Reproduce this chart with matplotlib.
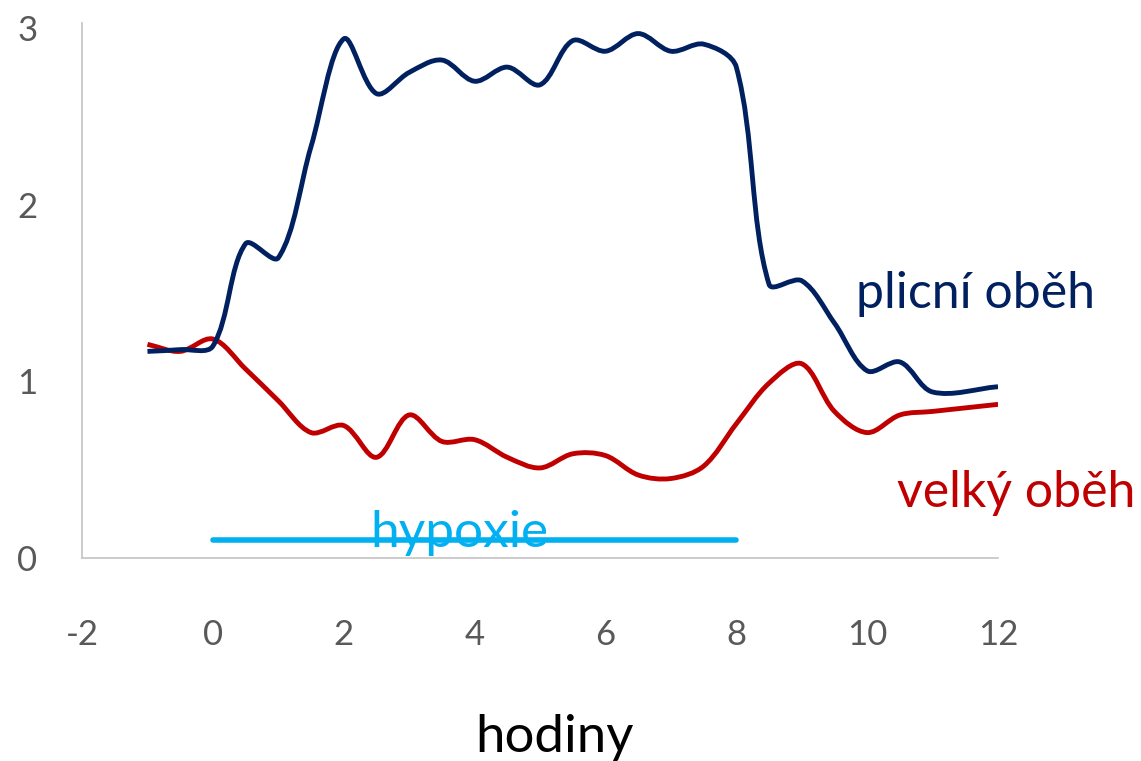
import matplotlib
matplotlib.use("Agg")
import math
import matplotlib.pyplot as plt
from matplotlib.path import Path
from matplotlib.patches import PathPatch

# hodiny (hours) at which the values were measured
hours = [-1, -0.5, 0, 0.5, 1, 1.5, 2, 2.5, 3, 3.5, 4, 4.5, 5, 5.5, 6, 6.5,
         7, 7.5, 8, 8.5, 9, 9.5, 10, 10.5, 11, 12]
plicni = [1.17, 1.18, 1.20, 1.78, 1.70, 2.33, 2.94, 2.63, 2.75, 2.82, 2.70, 2.78,
          2.68, 2.93, 2.87, 2.97, 2.87, 2.91, 2.78, 1.55, 1.57, 1.33, 1.06, 1.11,
          0.94, 0.97]
velky = [1.21, 1.17, 1.24, 1.07, 0.89, 0.71, 0.75, 0.57, 0.81, 0.66, 0.67, 0.57,
         0.51, 0.59, 0.58, 0.47, 0.45, 0.52, 0.76, 0.99, 1.10, 0.83, 0.71, 0.81,
         0.83, 0.87]
hypoxie_x = [0, 8]
hypoxie_y = [0.1, 0.1]

xticks = [-2, 0, 2, 4, 6, 8, 10, 12]
yticks = [0, 1, 2, 3]

NAVY = "#002060"
RED = "#C00000"
CYAN = "#00B0F0"
GRAY = "#595959"

plt.rcParams["font.family"] = ["Lato", "DejaVu Sans"]

# rough pixels per data unit, only used to weigh segment lengths when smoothing
SX, SY = 65.4, 176.6


def smooth_path(xs, ys):
    """Excel-like smoothed line: tangents split by neighbouring segment lengths."""
    pts = list(zip(xs, ys))
    n = len(pts)

    def seglen(a, b):
        return math.hypot((b[0] - a[0]) * SX, (b[1] - a[1]) * SY)

    before, after = [], []
    for i in range(n):
        p0 = pts[max(i - 1, 0)]
        p1 = pts[i]
        p2 = pts[min(i + 1, n - 1)]
        tx, ty = p2[0] - p0[0], p2[1] - p0[1]
        d1, d2 = seglen(p0, p1), seglen(p1, p2)
        tot = d1 + d2 if d1 + d2 > 0 else 1
        f = 1 / 3
        before.append((p1[0] - tx * f * d1 / tot, p1[1] - ty * f * d1 / tot))
        after.append((p1[0] + tx * f * d2 / tot, p1[1] + ty * f * d2 / tot))

    verts = [pts[0]]
    codes = [Path.MOVETO]
    for i in range(n - 1):
        verts += [after[i], before[i + 1], pts[i + 1]]
        codes += [Path.CURVE4] * 3
    return Path(verts, codes)


fig = plt.figure(figsize=(11.41, 7.61), dpi=100)
ax = fig.add_axes([0.0719, 0.2668, 0.8028, 0.7030])

for ys, col in [(velky, RED), (plicni, NAVY)]:
    ax.add_patch(PathPatch(smooth_path(hours, ys), fill=False, edgecolor=col,
                           lw=3.5, capstyle="butt", joinstyle="round"))

ax.plot(hypoxie_x, hypoxie_y, color=CYAN, lw=4.0, solid_capstyle="round")

ax.set_xlim(-2, 12)
ax.set_ylim(0, 3.03)
ax.set_xticks(xticks)
ax.set_yticks(yticks)
ax.set_xticklabels([str(t) for t in xticks])
ax.set_yticklabels([str(t) for t in yticks])
ax.tick_params(axis="both", length=0, labelsize=25, colors=GRAY)
ax.tick_params(axis="x", pad=44)
ax.tick_params(axis="y", pad=32)

for side in ["top", "right"]:
    ax.spines[side].set_visible(False)
for side in ["left", "bottom"]:
    ax.spines[side].set_color("#C8C8C8")
    ax.spines[side].set_linewidth(1.3)

ax.text(3.77, 0.063, "hypoxie", color=CYAN, fontsize=37, ha="center", va="baseline")
ax.text(9.83, 1.416, "plicní oběh", color=NAVY, fontsize=36, ha="left", va="baseline")
ax.text(10.46, 0.289, "velký oběh", color=RED, fontsize=36, ha="left", va="baseline",
        clip_on=False)

ax.set_xlabel("hodiny", fontsize=38, color="black")
ax.xaxis.set_label_coords(0.516, -0.3626)
ax.xaxis.label.set_va("baseline")

fig.savefig("out.png", dpi=100)
